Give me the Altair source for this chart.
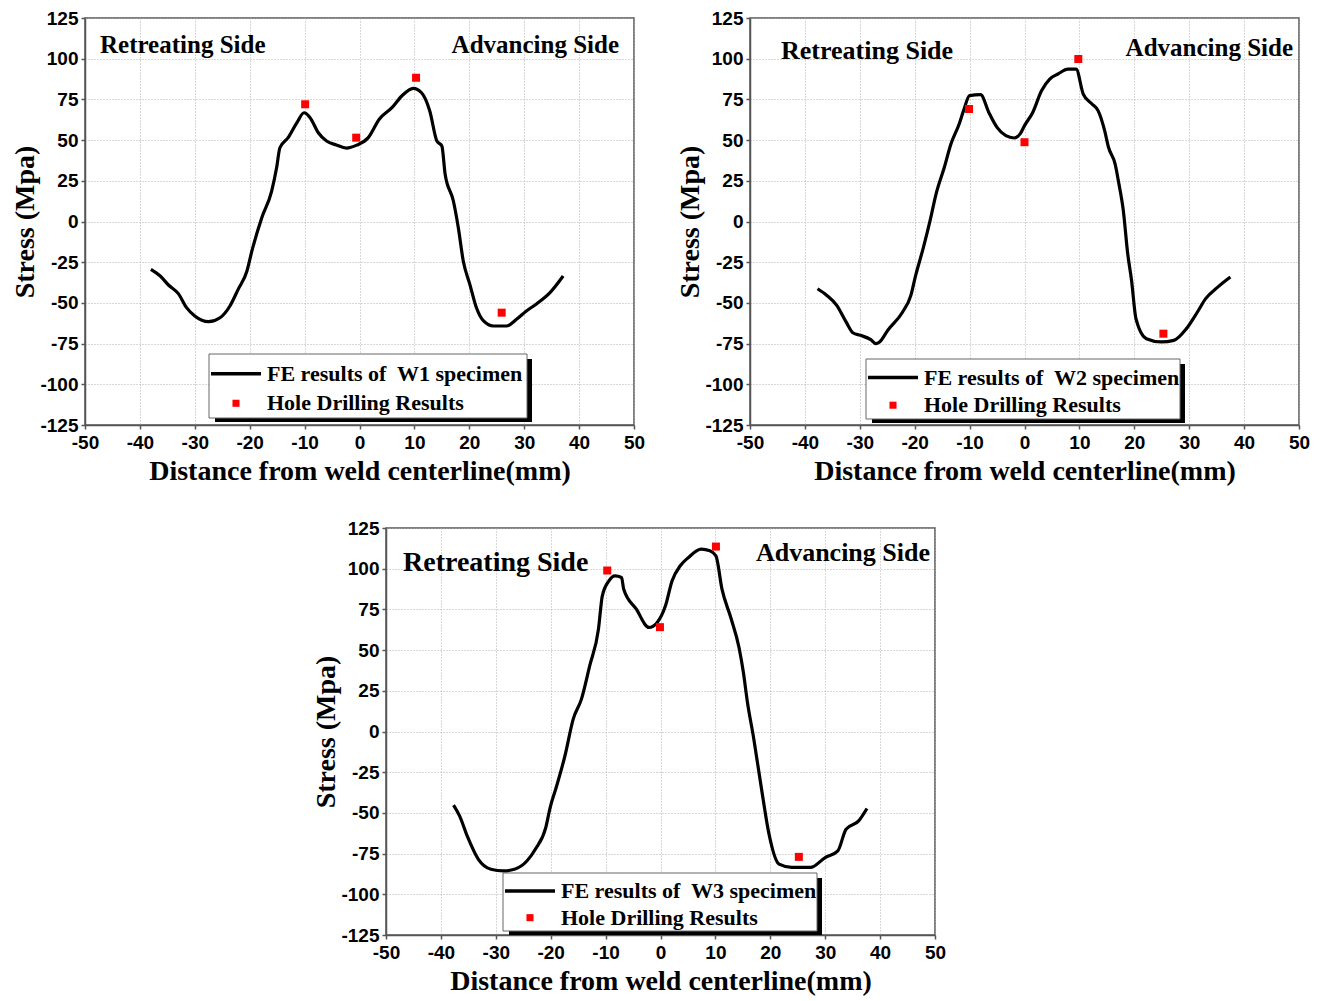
import altair as alt
import pandas as pd

# ---------------- data ----------------
x_ticks = [-50, -40, -30, -20, -10, 0, 10, 20, 30, 40, 50]
y_ticks = [-125, -100, -75, -50, -25, 0, 25, 50, 75, 100, 125]
side_labels = ["Retreating Side", "Advancing Side"]
hd_label = "Hole Drilling Results"

# W1
w1_x = [-38.0, -36.3, -34.8, -33.0, -31.5, -30.0, -27.5, -25.4, -23.6, -22.1, -20.5, -19.6,
        -17.8, -16.0, -15.1, -14.5, -13.0, -11.4, -10.1, -9.0, -7.5, -6.0, -4.2, -2.4,
        -0.5, 1.6, 3.6, 5.9, 7.7, 9.8, 11.3, 12.8, 14.1, 15.0, 15.6, 17.1,
        18.0, 18.9, 20.1, 21.3, 22.6, 24.4, 26.8, 28.6, 30.4, 32.3, 34.7, 37.1]
w1_y = [-29.4, -33.5, -39.0, -44.3, -52.9, -58.0, -61.5, -59.1, -51.9, -41.7, -30.4, -18.1,
        2.3, 18.7, 33.0, 45.3, 51.5, 60.7, 66.8, 63.8, 54.5, 49.4, 47.0, 45.1,
        46.9, 51.5, 62.8, 69.9, 77.1, 81.8, 79.1, 67.9, 49.4, 46.4, 29.0, 12.6,
        -3.8, -24.3, -38.6, -53.0, -61.1, -64.2, -64.2, -60.1, -55.0, -50.5, -43.7, -33.5]
w1_hx = [-9.9, -0.6, 10.3, 25.9]
w1_hy = [72.0, 51.5, 88.3, -56.0]
w1_label = "FE results of\u00a0 W1 specimen"

# W2
w2_x = [-37.7, -36.0, -34.2, -32.5, -31.2, -29.9, -28.0, -27.1, -26.4, -24.9, -22.2, -20.7,
        -19.9, -18.4, -17.2, -16.1, -14.6, -13.4, -11.9, -11.1, -10.0, -8.0, -6.5, -5.0,
        -3.4, -1.9, -0.8, 0.0, 1.5, 3.1, 4.6, 6.1, 7.9, 9.4, 10.7, 12.3,
        13.4, 14.6, 15.3, 16.5, 17.2, 18.0, 18.8, 19.5, 20.3, 22.2, 24.9, 27.2,
        29.5, 31.5, 33.0, 35.2, 37.5]
w2_y = [-41.3, -45.4, -51.5, -61.7, -68.5, -69.9, -72.6, -75.0, -74.0, -66.8, -55.6, -45.4,
        -34.1, -15.7, 0.6, 17.0, 33.3, 47.6, 59.9, 68.1, 77.3, 77.9, 67.0, 57.8,
        52.7, 51.3, 53.8, 58.9, 67.0, 80.3, 87.5, 90.6, 93.6, 93.6, 78.3, 72.2,
        68.1, 55.8, 45.6, 35.4, 23.1, 6.7, -19.8, -36.2, -59.7, -72.0, -74.0, -73.0,
        -65.8, -55.6, -47.4, -40.3, -34.1]
w2_hx = [-10.1, 0.0, 9.8, 25.3]
w2_hy = [69.1, 48.7, 99.8, -68.9]
w2_label = "FE results of\u00a0 W2 specimen"

# W3
w3_x = [-37.7, -36.6, -35.1, -33.2, -30.9, -28.6, -26.6, -24.3, -22.8, -20.9, -20.1, -19.0,
        -17.4, -15.9, -14.4, -12.9, -11.3, -10.6, -9.4, -8.3, -7.1, -6.7, -4.4, -2.1,
        -0.6, 0.9, 2.1, 3.6, 5.1, 7.4, 9.0, 10.1, 11.2, 12.8, 14.3, 15.1,
        15.8, 17.0, 18.5, 19.7, 21.6, 23.9, 27.3, 30.0, 32.3, 33.8, 36.1, 37.6]
w3_y = [-45.2, -51.8, -65.1, -78.4, -84.6, -85.6, -84.6, -79.4, -72.3, -59.0, -46.7, -34.4,
        -14.9, 7.6, 19.9, 40.3, 62.9, 83.3, 92.5, 95.6, 94.6, 87.4, 75.1, 63.9,
        67.0, 77.2, 92.5, 101.8, 106.9, 112.0, 111.0, 107.9, 87.4, 70.0, 51.6, 36.2,
        18.8, -4.7, -37.5, -62.0, -81.5, -83.5, -83.5, -77.4, -73.3, -60.0, -54.9, -47.3]
w3_hx = [-9.7, -0.1, 10.1, 25.2]
w3_hy = [98.9, 64.1, 113.6, -77.0]
w3_label = "FE results of\u00a0 W3 specimen"

# ---------------- styling ----------------
SERIF = "Liberation Serif"
SANS = "Liberation Sans"
W, H = 549, 407
LABEL_EXPR = "'' + datum.value"


def panel(xs, ys, hx, hy, fe_label, box, ann, ann_sizes):
    line_df = pd.DataFrame({"x": xs, "y": ys})
    pt_df = pd.DataFrame({"x": hx, "y": hy})
    xscale = alt.Scale(domain=[-50, 50], nice=False, zero=False)
    yscale = alt.Scale(domain=[-125, 125], nice=False, zero=False)
    xaxis = alt.Axis(values=x_ticks, title="Distance from weld centerline(mm)",
                     labelFlush=False, titlePadding=5, labelPadding=4, labelExpr=LABEL_EXPR)
    yaxis = alt.Axis(values=y_ticks, title="Stress (Mpa)", labelFlush=False,
                     titlePadding=0, labelPadding=3, labelExpr=LABEL_EXPR)

    line = alt.Chart(line_df).mark_line(color="black", strokeWidth=3.2,
                                        interpolate="monotone").encode(
        x=alt.X("x:Q", scale=xscale, axis=xaxis),
        y=alt.Y("y:Q", scale=yscale, axis=yaxis))
    pts = alt.Chart(pt_df).mark_point(shape="square", filled=True, color="#ff0000",
                                      size=64, opacity=1).encode(x="x:Q", y="y:Q")

    bx0, by0, bx1, by1 = box
    one = pd.DataFrame({"fe": [fe_label], "hd": [hd_label]})
    shadow = alt.Chart(one).mark_rect(color="black").encode(
        x=alt.value(bx0 + 6), x2=alt.value(bx1 + 5), y=alt.value(by0 + 5), y2=alt.value(by1 + 4))
    frame = alt.Chart(one).mark_rect(fill="white", stroke="#666", strokeWidth=1).encode(
        x=alt.value(bx0), x2=alt.value(bx1), y=alt.value(by0), y2=alt.value(by1))
    row1 = by0 + (by1 - by0) * 0.31
    row2 = by0 + (by1 - by0) * 0.77
    sample = alt.Chart(one).mark_rule(color="black", strokeWidth=3.5).encode(
        x=alt.value(bx0 + 2), x2=alt.value(bx0 + 52), y=alt.value(row1))
    sq = alt.Chart(one).mark_point(shape="square", filled=True, color="#ff0000",
                                   size=50, opacity=1).encode(
        x=alt.value(bx0 + 27), y=alt.value(row2))
    t1 = alt.Chart(one).mark_text(align="left", baseline="middle", font=SERIF,
                                  fontWeight="bold", fontSize=22, color="black").encode(
        x=alt.value(bx0 + 58), y=alt.value(row1), text="fe:N")
    t2 = alt.Chart(one).mark_text(align="left", baseline="middle", font=SERIF,
                                  fontWeight="bold", fontSize=22, color="black").encode(
        x=alt.value(bx0 + 58), y=alt.value(row2), text="hd:N")

    (lx, ly), (rx, ry) = ann
    sides = pd.DataFrame({"left": [side_labels[0]], "right": [side_labels[1]]})
    a1 = alt.Chart(sides).mark_text(align="left", baseline="alphabetic", font=SERIF,
                                    fontWeight="bold", fontSize=ann_sizes[0], color="black").encode(
        x=alt.value(lx), y=alt.value(ly), text="left:N")
    a2 = alt.Chart(sides).mark_text(align="right", baseline="alphabetic", font=SERIF,
                                    fontWeight="bold", fontSize=ann_sizes[1], color="black").encode(
        x=alt.value(rx), y=alt.value(ry), text="right:N")

    return alt.layer(line, pts, shadow, frame, sample, sq, t1, t2, a1, a2).properties(
        width=W, height=H)


p1 = panel(w1_x, w1_y, w1_hx, w1_hy, w1_label, (124, 336, 442, 400),
           ((15, 35), (534, 35)), (25, 25))
p2 = panel(w2_x, w2_y, w2_hx, w2_hy, w2_label, (116, 341, 430, 401),
           ((31, 41), (543, 38)), (26, 25))
p3 = panel(w3_x, w3_y, w3_hx, w3_hy, w3_label, (117, 345, 431, 403),
           ((17, 43), (544, 33)), (28, 26))

SPACER_W = 225
spacer = alt.Chart(pd.DataFrame({"v": [0]})).mark_rect(opacity=0).encode(
    x=alt.value(0), x2=alt.value(SPACER_W), y=alt.value(0), y2=alt.value(10)
).properties(width=SPACER_W, height=10, view=alt.ViewBackground(strokeOpacity=0))

top = alt.hconcat(p1, p2, spacing=30)
bottom = alt.hconcat(spacer, p3, spacing=2)
chart = alt.vconcat(top, bottom, spacing=32).configure(
    padding={"left": 3, "top": 0, "right": 0, "bottom": 0}, background="white"
).configure_view(
    stroke="#555", strokeWidth=1.5
).configure_axis(
    domainColor="#555", domainWidth=1.5, tickColor="#555", tickWidth=1.5, tickSize=4,
    grid=True, gridColor="#b0b0b0", gridDash=[1, 2], gridWidth=1,
    labelFont=SANS, labelFontWeight="bold", labelFontSize=19, labelColor="black",
    titleFont=SERIF, titleFontWeight="bold", titleFontSize=28, titleColor="black"
)

chart.save("out.html", embed_options={"renderer": "svg", "actions": False})
